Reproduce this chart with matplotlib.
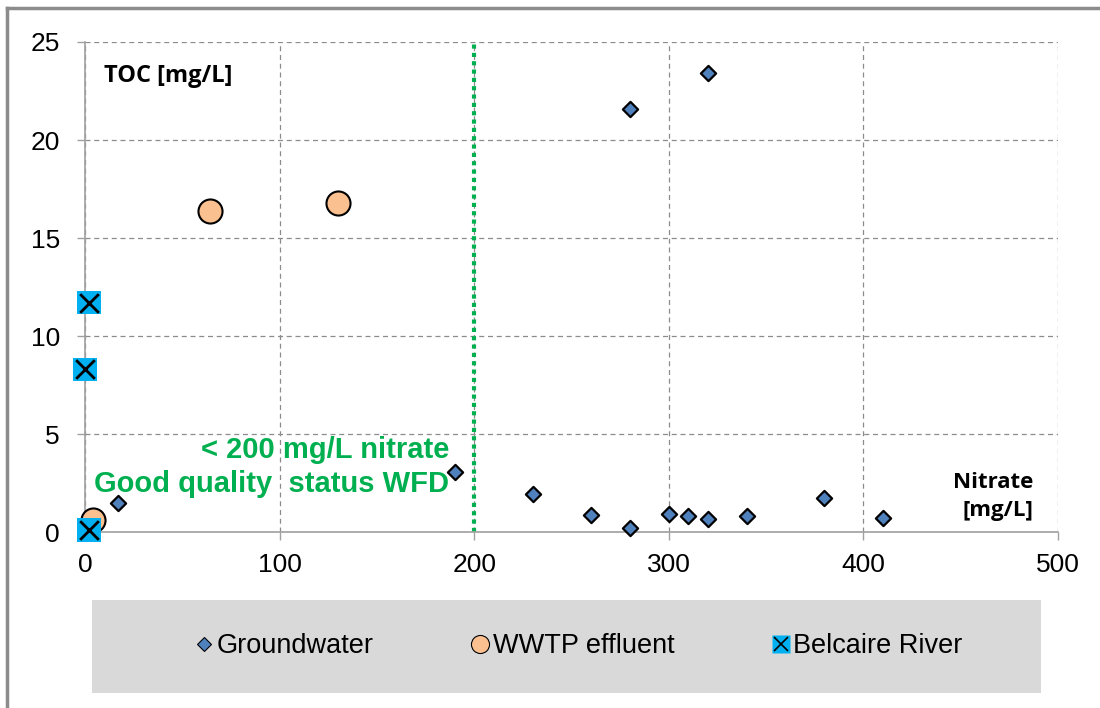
import matplotlib.pyplot as plt
from matplotlib.lines import Line2D
from matplotlib.patches import Rectangle

plt.rcParams['font.family'] = ['Liberation Sans', 'DejaVu Sans']

# groundwater samples
gw_nitrate = [17, 190, 230, 260, 280, 300, 310, 320, 340, 380, 410, 280, 320]
gw_toc = [1.5, 3.05, 1.95, 0.85, 0.2, 0.92, 0.8, 0.65, 0.8, 1.72, 0.7, 21.6, 23.4]

# WWTP effluent
ww_nitrate = [4, 64, 130]
ww_toc = [0.6, 16.4, 16.8]

# Belcaire River
br_nitrate = [2, 0, 2]
br_toc = [11.7, 8.3, 0.1]

legend_labels = ['Groundwater', 'WWTP effluent', 'Belcaire River']

fig = plt.figure(figsize=(11, 7.08), dpi=100)
ax = fig.add_axes([85 / 1100, 1 - 532 / 708, (1058 - 85) / 1100, (532 - 42) / 708])

ax.set_xlim(0, 500)
ax.set_ylim(0, 25)
ax.set_xticks(range(0, 501, 100))
ax.set_yticks(range(0, 26, 5))
ax.grid(True, color='#8c8c8c', linestyle=(0, (4, 3)), linewidth=0.9)
ax.set_axisbelow(True)
for s in ['top', 'right']:
    ax.spines[s].set_visible(False)
for s in ['left', 'bottom']:
    ax.spines[s].set_color('#a0a0a0')
    ax.spines[s].set_linewidth(1.2)
ax.tick_params(axis='both', colors='#a0a0a0', labelcolor='black', labelsize=19,
               length=6, width=1)
ax.tick_params(axis='x', pad=9)
ax.tick_params(axis='y', pad=12)

ax.axvline(200, color='#00B050', linestyle=(0, (1, 1)), linewidth=3, zorder=2)

ax.scatter(gw_nitrate, gw_toc, marker='D', s=60, facecolor='#4F81BD',
           edgecolor='black', linewidth=1.6, zorder=4, clip_on=False)
ax.scatter(ww_nitrate, ww_toc, marker='o', s=300, facecolor='#FAC090',
           edgecolor='black', linewidth=1.5, zorder=3, clip_on=False)
ax.scatter(br_nitrate, br_toc, marker='s', s=280, facecolor='#00B0F0',
           edgecolor='none', zorder=5, clip_on=False)
ax.scatter(br_nitrate, br_toc, marker='x', s=180, color='black',
           linewidth=2, zorder=6, clip_on=False)

ax.text(0.02, 0.93, 'TOC [mg/L]', transform=ax.transAxes, fontsize=17,
        fontweight='bold', family=['Open Sans', 'DejaVu Sans'], va='center')
ax.text(0.975, 0.073, 'Nitrate\n[mg/L]', transform=ax.transAxes, fontsize=16,
        fontweight='bold', family=['Open Sans', 'DejaVu Sans'], ha='right',
        va='center', linespacing=1.45)
ax.text(187, 4.2, '< 200 mg/L nitrate', color='#00B050', fontsize=21,
        fontweight='bold', ha='right', va='center')
ax.text(187, 2.45, 'Good quality  status WFD', color='#00B050', fontsize=21,
        fontweight='bold', ha='right', va='center')

# outer frame
fig.add_artist(Line2D([7 / 1100, 7 / 1100], [0, 1 - 8 / 708], color='#8c8c8c',
                      linewidth=2.5, transform=fig.transFigure))
fig.add_artist(Line2D([7 / 1100, 1], [1 - 8 / 708, 1 - 8 / 708], color='#8c8c8c',
                      linewidth=2.5, transform=fig.transFigure))

# legend box
fig.add_artist(Rectangle((92 / 1100, 1 - 693 / 708), (1041 - 92) / 1100,
                         (693 - 600) / 708, facecolor='#D9D9D9',
                         edgecolor='none', transform=fig.transFigure))
sq = Line2D([], [], marker='s', linestyle='none', markersize=13,
            markerfacecolor='#00B0F0', markeredgecolor='none')
cross = Line2D([], [], marker='x', linestyle='none', markersize=10,
               color='black', markeredgewidth=1.2)
handles = [
    Line2D([], [], marker='D', linestyle='none', markersize=7,
           markerfacecolor='#4F81BD', markeredgecolor='black', markeredgewidth=0.8),
    Line2D([], [], marker='o', linestyle='none', markersize=13,
           markerfacecolor='#FAC090', markeredgecolor='black', markeredgewidth=0.8),
    (sq, cross),
]
fig.legend(handles, legend_labels, loc='center', ncol=3,
           bbox_to_anchor=(578 / 1100, 1 - 646 / 708), frameon=False,
           fontsize=19.5, handletextpad=0.05, columnspacing=3.55, handlelength=0.8)

fig.savefig('out.png', dpi=100)
